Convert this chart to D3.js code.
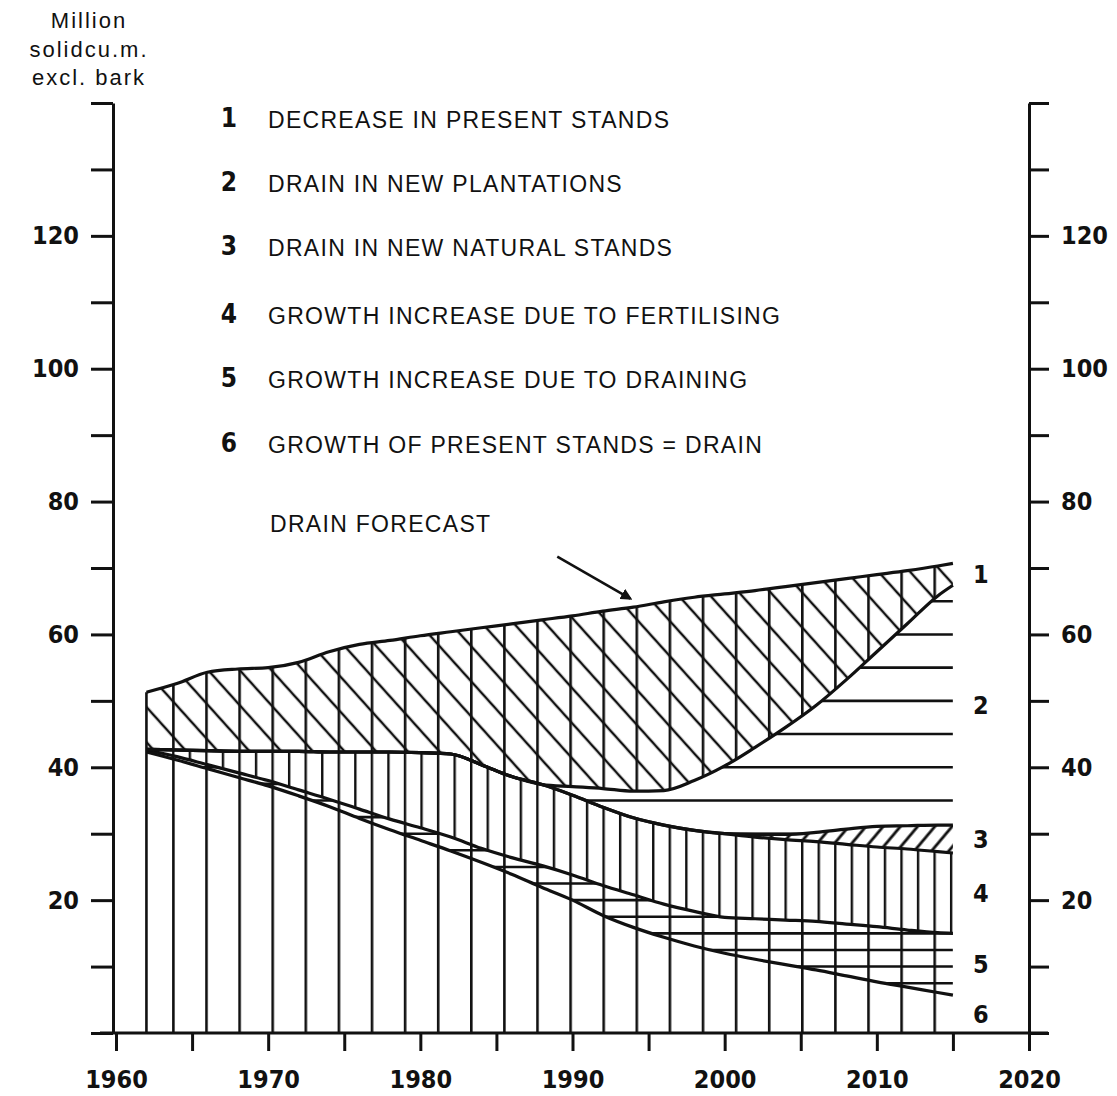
<!DOCTYPE html>
<html>
<head>
<meta charset="utf-8">
<script src="https://cdn.jsdelivr.net/npm/d3@7"></script>
<style>
  html, body { margin: 0; padding: 0; background: #fff; }
  svg { display: block; }
</style>
</head>
<body>
<svg id="chart" width="1117" height="1096"></svg>
<script>
// Years at which the forecast components are tabulated
const years = [1962, 1964, 1966, 1968, 1970, 1972, 1974, 1976, 1978, 1980, 1982, 1984, 1986, 1988,
               1990, 1992, 1994, 1996, 1998, 2000, 2002, 2004, 2006, 2008, 2010, 2012, 2014, 2015];

// Components in million solid cu.m. excl. bark, listed from the bottom of the stack upwards
// 6 growth of present stands = drain
const growthPresent   = [42.3, 41.1, 39.8, 38.5, 37.2, 35.7, 34.1, 32.3, 30.6, 29.0, 27.4, 25.7, 23.9, 21.9,
                         20.0, 17.7, 15.9, 14.4, 13.1, 12.0, 11.1, 10.3, 9.5, 8.6, 7.7, 6.9, 6.1, 5.7];
// 5 growth increase due to draining
const drainingGain    = [0.3, 0.5, 0.6, 0.7, 0.8, 0.9, 1.1, 1.4, 1.6, 1.9, 2.1, 2.1, 2.5, 3.3,
                         3.8, 4.5, 4.9, 5.0, 5.2, 5.4, 6.1, 6.7, 7.3, 7.8, 8.3, 8.6, 9.0, 9.3];
// 4 growth increase due to fertilising
const fertilisingGain = [0.1, 1.0, 2.1, 3.2, 4.4, 5.8, 7.1, 8.6, 10.1, 11.3, 12.5, 12.6, 12.2, 12.2,
                         12.0, 11.8, 11.6, 11.9, 12.2, 12.6, 12.3, 12.1, 12.0, 12.0, 12.0, 12.2, 12.2, 12.1];
// 3 drain in new natural stands
const naturalDrain    = [0, 0, 0, 0, 0, 0, 0, 0, 0, 0, 0, 0, 0, 0,
                         0, 0, 0, 0, 0, 0, 0.4, 0.8, 1.4, 2.3, 3.1, 3.5, 4.0, 4.2];
// 2 drain in new plantations
const plantationDrain = [0, 0, 0, 0, 0, 0, 0, 0, 0, 0, 0, 0, 0, 0,
                         1.3, 2.8, 4.0, 5.2, 7.5, 10.2, 13.1, 16.1, 19.1, 22.5, 26.3, 30.4, 34.5, 36.1];
// 1 decrease in present stands
const standsDecrease  = [8.6, 10.0, 11.8, 12.4, 12.6, 13.4, 15.1, 16.2, 16.8, 17.6, 18.4, 20.6, 23.0, 24.8,
                         25.7, 26.7, 27.7, 28.4, 27.6, 25.9, 23.6, 21.2, 18.5, 15.2, 11.6, 8.0, 4.5, 3.3];

// Axis ticks and labels
const yTicks  = d3.range(0, 141, 10);
const yLabels = [20, 40, 60, 80, 100, 120];
const xTicks  = d3.range(1960, 2021, 5);
const xLabels = [1960, 1970, 1980, 1990, 2000, 2010, 2020];

// Legend entries, numbered 1..6 from the top of the stack
const legendNumbers = ["1", "2", "3", "4", "5", "6"];
const legendTexts = [
  "DECREASE IN PRESENT STANDS",
  "DRAIN IN NEW PLANTATIONS",
  "DRAIN IN NEW NATURAL STANDS",
  "GROWTH INCREASE DUE TO FERTILISING",
  "GROWTH INCREASE DUE TO DRAINING",
  "GROWTH OF PRESENT STANDS = DRAIN"
];
const forecastLabel = "DRAIN FORECAST";
const unitLines = ["Million", "solidcu.m.", "excl. bark"];
// Arrow pointing at the forecast line: [year, value] of tail and head
const forecastArrow = { from: [1989.0, 71.7], to: [1993.8, 65.4] };

// ---------------------------------------------------------------------------
const ink = "#111";
const numFont = "'DejaVu Sans Condensed', 'DejaVu Sans', sans-serif";
const textFont = "'Liberation Sans', Arial, sans-serif";

const svg = d3.select("#chart");
svg.append("rect").attr("width", 1117).attr("height", 1096).attr("fill", "#fff");

const x = d3.scaleLinear().domain([1960, 2020]).range([116, 1029]);
const y = d3.scaleLinear().domain([0, 140]).range([1033, 103]);

// stack, bottom to top
const keys = ["growth", "draining", "fertilising", "natural", "plantation", "decrease"];
const keyNumber = { growth: "6", draining: "5", fertilising: "4", natural: "3", plantation: "2", decrease: "1" };
const rows = years.map((yr, i) => ({
  year: yr,
  growth: growthPresent[i],
  draining: drainingGain[i],
  fertilising: fertilisingGain[i],
  natural: naturalDrain[i],
  plantation: plantationDrain[i],
  decrease: standsDecrease[i]
}));
const series = d3.stack().keys(keys)(rows);
const byKey = Object.fromEntries(series.map(s => [s.key, s]));

const curve = d3.curveMonotoneX;
const area = d3.area().x(d => x(d.data.year)).y0(d => y(d[0])).y1(d => y(d[1])).curve(curve);
const upper = d3.line().x(d => x(d.data.year)).y(d => y(d[1])).curve(curve);

// ---- hatch patterns --------------------------------------------------------
const defs = svg.append("defs");
const hatchX0 = 139;

function verticalHatch(id, step, sw) {
  const p = defs.append("pattern").attr("id", id)
    .attr("patternUnits", "userSpaceOnUse")
    .attr("x", hatchX0).attr("y", 0).attr("width", step).attr("height", 20);
  p.append("line").attr("x1", sw / 2).attr("x2", sw / 2).attr("y1", 0).attr("y2", 20)
    .attr("stroke", ink).attr("stroke-width", sw);
}
function slantHatch(id, gap, angle, sw) {
  const p = defs.append("pattern").attr("id", id)
    .attr("patternUnits", "userSpaceOnUse")
    .attr("width", 60).attr("height", gap)
    .attr("patternTransform", `rotate(${angle})`);
  p.append("line").attr("x1", 0).attr("x2", 60).attr("y1", gap / 2).attr("y2", gap / 2)
    .attr("stroke", ink).attr("stroke-width", sw);
}
verticalHatch("vWide", 33.1, 2.6);
verticalHatch("vDense", 16.55, 2.4);
slantHatch("backslash", 23.5, 48, 2.6);
slantHatch("slash", 13.2, -50, 2.9);

const plot = svg.append("g");

plot.append("path").attr("d", area(byKey.growth)).attr("fill", "url(#vWide)");
plot.append("path").attr("d", area(byKey.draining)).attr("fill", "url(#vWide)");
plot.append("path").attr("d", area(byKey.fertilising)).attr("fill", "url(#vDense)");
plot.append("path").attr("d", area(byKey.natural)).attr("fill", "url(#slash)");
plot.append("path").attr("d", area(byKey.decrease)).attr("fill", "url(#vWide)");
plot.append("path").attr("d", area(byKey.decrease)).attr("fill", "url(#backslash)");

// horizontal rulings at fixed levels, clipped to a band
function ruleBand(s, step, id) {
  defs.append("clipPath").attr("id", id).append("path").attr("d", area(s));
  const lo = d3.min(s, d => d[0]);
  const hi = d3.max(s, d => d[1]);
  plot.append("g").attr("clip-path", `url(#${id})`)
    .selectAll("line")
    .data(d3.range(Math.ceil(lo / step) * step, hi + 0.01, step))
    .join("line")
    .attr("x1", x(years[0])).attr("x2", x(years[years.length - 1]))
    .attr("y1", d => y(d)).attr("y2", d => y(d))
    .attr("stroke", ink).attr("stroke-width", 2.6);
}
ruleBand(byKey.draining, 2.5, "clipDraining");
ruleBand(byKey.plantation, 5, "clipPlantation");

// band boundaries
series.forEach(s => {
  plot.append("path").attr("d", upper(s))
    .attr("fill", "none").attr("stroke", ink)
    .attr("stroke-width", 3.2).attr("stroke-linejoin", "round");
});

// left edge of the stacked block
const total0 = byKey.decrease[0][1];
plot.append("line")
  .attr("x1", x(years[0])).attr("x2", x(years[0]))
  .attr("y1", y(0)).attr("y2", y(total0))
  .attr("stroke", ink).attr("stroke-width", 2.6);

// band numbers at the right end
const last = years.length - 1;
svg.append("g").selectAll("text")
  .data(series)
  .join("text")
  .attr("x", x(years[last]) + 28)
  .attr("y", s => y((s[last][0] + s[last][1]) / 2))
  .attr("dy", "0.36em")
  .attr("text-anchor", "middle")
  .attr("font-family", numFont).attr("font-weight", "bold").attr("font-size", 25)
  .attr("fill", ink)
  .text(s => keyNumber[s.key]);

// ---- axes -------------------------------------------------------------------
function styleAxis(g) {
  g.selectAll(".domain").attr("stroke", ink).attr("stroke-width", 3);
  g.selectAll(".tick line").attr("stroke", ink).attr("stroke-width", 3);
  g.selectAll(".tick text")
    .attr("fill", ink)
    .attr("font-family", numFont).attr("font-weight", "bold").attr("font-size", 25);
}
const yFmt = v => (yLabels.includes(v) ? v : "");

const leftAxis = svg.append("g")
  .attr("transform", `translate(${x(1960) - 3},0)`)
  .call(d3.axisLeft(y).tickValues(yTicks).tickSize(22).tickSizeOuter(0).tickPadding(12).tickFormat(yFmt));
styleAxis(leftAxis);

const rightAxis = svg.append("g")
  .attr("transform", `translate(${x(2020)},0)`)
  .call(d3.axisRight(y).tickValues(yTicks).tickSize(20).tickSizeOuter(0).tickPadding(12).tickFormat(yFmt));
styleAxis(rightAxis);

const bottomAxis = svg.append("g")
  .attr("transform", `translate(0,${y(0)})`)
  .call(d3.axisBottom(x).tickValues(xTicks).tickSize(18).tickSizeOuter(0).tickPadding(19)
    .tickFormat(v => (xLabels.includes(v) ? v : "")));
bottomAxis.select(".domain").remove();
styleAxis(bottomAxis);
bottomAxis.append("line")
  .attr("x1", x(1960) - 16).attr("x2", x(2020) + 19)
  .attr("y1", 0).attr("y2", 0)
  .attr("stroke", ink).attr("stroke-width", 3);

// unit title
svg.append("g").selectAll("text")
  .data(unitLines)
  .join("text")
  .attr("x", 89)
  .attr("y", (d, i) => 28 + i * 28.5)
  .attr("text-anchor", "middle")
  .attr("font-family", textFont).attr("font-size", 22)
  .attr("letter-spacing", 2)
  .attr("fill", ink)
  .text(d => d);

// ---- legend -----------------------------------------------------------------
const legendRowsY = [120, 184, 248, 316, 380, 445];
const legend = svg.append("g");
legend.selectAll("text.num")
  .data(legendNumbers)
  .join("text")
  .attr("class", "num")
  .attr("x", 229)
  .attr("y", (d, i) => legendRowsY[i] - 2)
  .attr("dy", "0.36em")
  .attr("text-anchor", "middle")
  .attr("font-family", numFont).attr("font-weight", "bold").attr("font-size", 26)
  .attr("fill", ink)
  .text(d => d);
legend.selectAll("text.item")
  .data(legendTexts)
  .join("text")
  .attr("class", "item")
  .attr("x", 268)
  .attr("y", (d, i) => legendRowsY[i])
  .attr("dy", "0.36em")
  .attr("font-family", textFont).attr("font-size", 23)
  .attr("letter-spacing", 1.3)
  .attr("fill", ink)
  .text(d => d);
legend.append("text")
  .attr("x", 270).attr("y", 524).attr("dy", "0.36em")
  .attr("font-family", textFont).attr("font-size", 23)
  .attr("letter-spacing", 1.3)
  .attr("fill", ink)
  .text(forecastLabel);

// arrow to the forecast line
defs.append("marker")
  .attr("id", "arrowHead")
  .attr("viewBox", "0 0 10 10")
  .attr("refX", 8).attr("refY", 5)
  .attr("markerWidth", 4.5).attr("markerHeight", 4.5)
  .attr("orient", "auto")
  .append("path").attr("d", "M0,0 L10,5 L0,10 Z").attr("fill", ink);
svg.append("line")
  .attr("x1", x(forecastArrow.from[0])).attr("y1", y(forecastArrow.from[1]))
  .attr("x2", x(forecastArrow.to[0])).attr("y2", y(forecastArrow.to[1]))
  .attr("stroke", ink).attr("stroke-width", 2.6)
  .attr("marker-end", "url(#arrowHead)");
</script>
</body>
</html>
